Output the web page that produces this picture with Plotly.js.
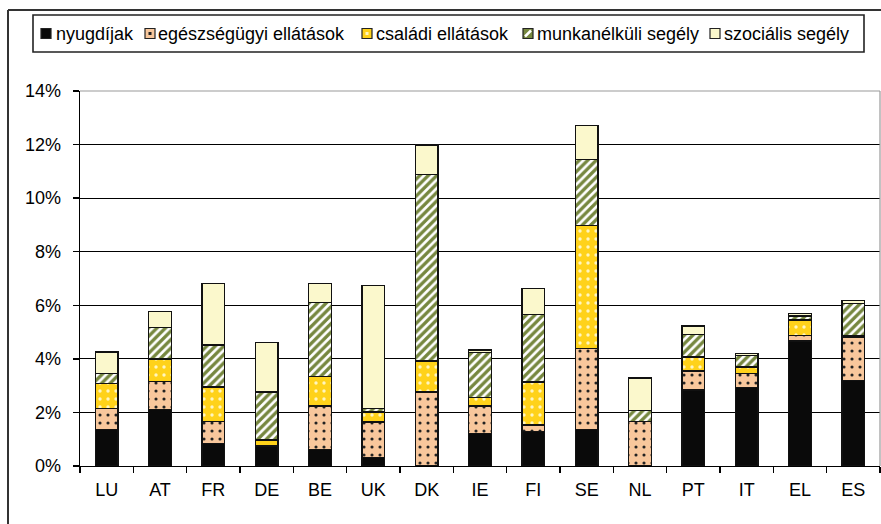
<!DOCTYPE html>
<html>
<head>
<meta charset="utf-8">
<script src="https://cdn.plot.ly/plotly-3.0.1.min.js"></script>
<style>
  html, body { margin: 0; padding: 0; background: #fff; }
  #chart { width: 881px; height: 524px; }
</style>
</head>
<body>
<div id="chart"></div>
<script>
const countries = ['LU','AT','FR','DE','BE','UK','DK','IE','FI','SE','NL','PT','IT','EL','ES'];
const seriesNames = ['nyugdíjak','egészségügyi ellátások','családi ellátások','munkanélküli segély','szociális segély'];
const nyugdijak     = [1.37, 2.12, 0.83, 0.75, 0.62, 0.31, 0.00, 1.21, 1.28, 1.37, 0.03, 2.84, 2.93, 4.67, 3.18];
const egeszsegugyi  = [0.77, 1.03, 0.83, 0.00, 1.62, 1.33, 2.76, 1.03, 0.25, 3.01, 1.63, 0.71, 0.52, 0.19, 1.64];
const csaladi       = [0.94, 0.84, 1.29, 0.22, 1.10, 0.38, 1.16, 0.31, 1.61, 4.59, 0.00, 0.52, 0.25, 0.59, 0.03];
const munkanelkuli  = [0.38, 1.19, 1.57, 1.79, 2.76, 0.12, 6.96, 1.68, 2.51, 2.46, 0.42, 0.85, 0.43, 0.15, 1.21];
const szocialis     = [0.80, 0.60, 2.30, 1.85, 0.72, 4.61, 1.10, 0.10, 0.98, 1.27, 1.21, 0.31, 0.08, 0.09, 0.13];
const yTicks = [0, 2, 4, 6, 8, 10, 12, 14];

const lineStyle = {color: '#111', width: 1.3};
const font = 'Liberation Sans, Arial, sans-serif';
const C = {black: '#0a0a0a', peach: '#f8c79c', yellow: '#ffd21a', olive: '#76873f', cream: '#fbf8cc'};

const traces = [
  {name: seriesNames[0], y: nyugdijak,
   marker: {color: C.black, line: lineStyle}},
  {name: seriesNames[1], y: egeszsegugyi,
   marker: {color: C.peach, line: lineStyle,
            pattern: {shape: '.', fillmode: 'replace', bgcolor: C.peach, fgcolor: '#222', size: 8, solidity: 0.12}}},
  {name: seriesNames[2], y: csaladi,
   marker: {color: C.yellow, line: lineStyle,
            pattern: {shape: '.', fillmode: 'replace', bgcolor: C.yellow, fgcolor: '#fff6c0', size: 8, solidity: 0.14}}},
  {name: seriesNames[3], y: munkanelkuli,
   marker: {color: C.olive, line: lineStyle,
            pattern: {shape: '/', fillmode: 'replace', bgcolor: '#ffffff', fgcolor: C.olive, size: 6, solidity: 0.55}}},
  {name: seriesNames[4], y: szocialis,
   marker: {color: C.cream, line: lineStyle}}
].map(t => Object.assign({type: 'bar', x: countries, hoverinfo: 'skip', showlegend: false}, t));

const L = 80, R = 1, T = 91, B = 58, W = 881, H = 524;
const pw = W - L - R, ph = H - T - B;
const px = v => (v - L) / pw;
const py = v => (H - B - v) / ph;

// custom legend (pixel layout of the reference legend)
const legSym = [41, 145, 362, 523, 710];
const legText = [55, 157, 375, 536, 723];
const legY = 33.5, s = 5;
const shapes = [
  {type: 'line', xref: 'paper', yref: 'paper', x0: 0, x1: 1, y0: 1, y1: 1, line: {color: '#999', width: 1.2}},
  {type: 'line', xref: 'paper', yref: 'paper', x0: 1, x1: 1, y0: 0, y1: 1, line: {color: '#999', width: 1.2}},
  {type: 'line', xref: 'paper', yref: 'paper', x0: px(8), x1: px(8), y0: py(530), y1: py(10), line: {color: '#333', width: 2}},
  {type: 'line', xref: 'paper', yref: 'paper', x0: px(8), x1: px(890), y0: py(10), y1: py(10), line: {color: '#333', width: 2}},
  {type: 'rect', xref: 'paper', yref: 'paper', x0: px(33), x1: px(864), y0: py(52), y1: py(15), line: {color: '#222', width: 1.6}, fillcolor: 'rgba(0,0,0,0)'}
];
const symFill = [C.black, C.peach, C.yellow, C.olive, C.cream];
const annotations = [];
legSym.forEach((x0, i) => {
  const cx = x0 + s;
  shapes.push({type: 'rect', xref: 'paper', yref: 'paper', x0: px(x0), x1: px(x0 + 2 * s),
    y0: py(legY + s), y1: py(legY - s), line: {color: '#222', width: 1.2}, fillcolor: symFill[i]});
  if (i === 1 || i === 2) {
    shapes.push({type: 'rect', xref: 'paper', yref: 'paper', x0: px(cx - 1.5), x1: px(cx + 1.5),
      y0: py(legY + 1.5), y1: py(legY - 1.5), line: {width: 0}, fillcolor: i === 1 ? '#222' : '#fff6c0'});
  }
  if (i === 3) {
    shapes.push({type: 'line', xref: 'paper', yref: 'paper', x0: px(x0 + 2), x1: px(x0 + 2 * s - 2),
      y0: py(legY + s - 2), y1: py(legY - s + 2), line: {color: '#fff', width: 2.5}});
  }
  annotations.push({xref: 'paper', yref: 'paper', x: px(legText[i]), y: py(legY), xanchor: 'left', yanchor: 'middle',
    text: seriesNames[i], showarrow: false, borderpad: 0, font: {family: font, size: 18, color: '#000'}});
});

const layout = {
  width: W, height: H,
  margin: {l: L, r: R, t: T, b: B, pad: 0},
  paper_bgcolor: '#fff', plot_bgcolor: '#fff',
  font: {family: font, size: 18, color: '#000'},
  barmode: 'stack',
  bargap: 0.57,
  showlegend: false,
  xaxis: {
    type: 'category', showline: true, linecolor: '#000', linewidth: 1.3,
    ticks: 'outside', tickson: 'boundaries', ticklen: 6, tickcolor: '#000', tickwidth: 1.3,
    showgrid: false, ticklabelstandoff: 7, fixedrange: true
  },
  yaxis: {
    range: [0, 14], tickvals: yTicks, ticktext: yTicks.map(v => v + '%'),
    showline: true, linecolor: '#000', linewidth: 1.3,
    ticks: 'outside', ticklen: 6, tickcolor: '#000', tickwidth: 1.3,
    showgrid: true, gridcolor: '#000', gridwidth: 1.2,
    zeroline: false, ticklabelstandoff: 8, fixedrange: true
  },
  shapes: shapes,
  annotations: annotations
};

Plotly.newPlot('chart', traces, layout, {displayModeBar: false, staticPlot: true});
</script>
</body>
</html>
